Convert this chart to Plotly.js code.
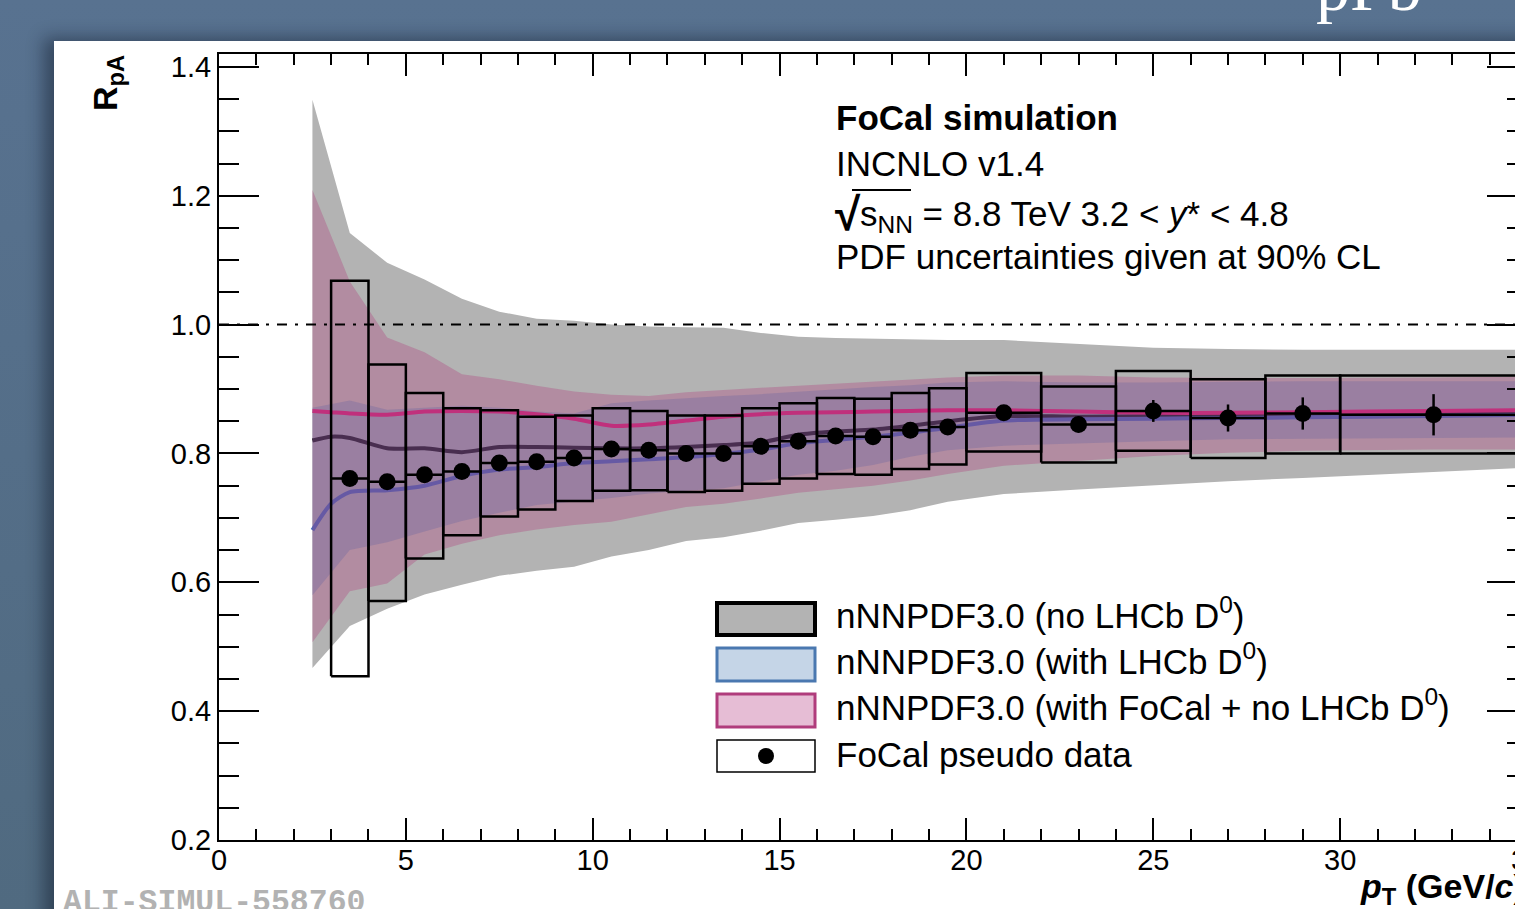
<!DOCTYPE html>
<html><head><meta charset="utf-8">
<script src="https://cdn.plot.ly/plotly-3.0.1.min.js"></script>
<style>
html,body{margin:0;padding:0;width:1515px;height:909px;overflow:hidden;}
body{background:linear-gradient(to bottom,#587290 0%,#506a80 100%);position:relative;}
#panel{position:absolute;left:54px;top:41px;width:1500px;height:900px;background:#fff;box-shadow:-10px -3px 16px rgba(10,20,35,0.45);}
#slidetitle{position:absolute;left:1316px;top:-47px;font-family:"Liberation Serif","DejaVu Serif",serif;font-size:68px;line-height:68px;color:#fff;white-space:nowrap;}
#alitag{position:absolute;left:63px;top:887px;font-family:"Liberation Mono","DejaVu Sans Mono",monospace;font-weight:bold;font-size:31.5px;line-height:31px;color:#b2b2b2;white-space:nowrap;}
#chart{position:absolute;left:0;top:0;width:1560px;height:909px;}
</style></head>
<body>
<div id="panel"></div>
<div id="slidetitle">pPb</div>
<div id="chart"></div>
<div id="alitag">ALI-SIMUL-558760</div>
<script>
// ---------- data ----------
const bandX  = [2.5,3.5,4.5,5.5,6.5,7.5,8.5,9.5,10.5,11.5,12.5,13.5,14.5,15.5,16.5,17.5,18.5,19.5,21,23,25,27,29,32.5,35];
const grayHi = [1.349,1.142,1.096,1.070,1.040,1.020,1.009,1.006,1.000,0.997,0.996,0.995,0.987,0.981,0.979,0.978,0.977,0.976,0.976,0.970,0.964,0.962,0.961,0.961,0.961];
const grayLo = [0.467,0.532,0.559,0.581,0.596,0.610,0.618,0.624,0.640,0.650,0.664,0.670,0.680,0.692,0.697,0.703,0.712,0.725,0.737,0.744,0.751,0.757,0.762,0.771,0.778];
const blueHi = [0.871,0.882,0.868,0.871,0.874,0.871,0.865,0.862,0.878,0.882,0.886,0.889,0.892,0.896,0.899,0.903,0.906,0.910,0.912,0.910,0.910,0.911,0.912,0.912,0.912];
const blueLo = [0.580,0.650,0.662,0.679,0.695,0.708,0.720,0.726,0.731,0.738,0.742,0.746,0.756,0.767,0.773,0.782,0.795,0.805,0.812,0.815,0.819,0.822,0.823,0.824,0.825];
const pinkHi = [1.209,1.067,0.980,0.957,0.923,0.915,0.905,0.896,0.891,0.889,0.895,0.899,0.902,0.905,0.908,0.911,0.914,0.918,0.921,0.921,0.918,0.917,0.917,0.918,0.919];
const pinkLo = [0.507,0.586,0.598,0.643,0.660,0.673,0.682,0.689,0.694,0.705,0.717,0.722,0.730,0.739,0.745,0.750,0.758,0.768,0.781,0.789,0.796,0.801,0.804,0.806,0.806];

const lineX     = [2.5,3.0,3.5,4.5,5.5,6.5,7.5,8.5,9.5,10.5,11.5,12.5,13.5,14.5,15.5,16.5,17.5,18.5,19.5,21,23,25,27,29,32.5,35];
const noLHCbMid = [0.820,0.826,0.824,0.808,0.808,0.802,0.810,0.810,0.809,0.808,0.808,0.810,0.813,0.817,0.829,0.834,0.837,0.843,0.850,0.858,0.857,0.858,0.858,0.860,0.861,0.862];
const lhcbMid   = [0.681,0.722,0.740,0.743,0.750,0.765,0.775,0.779,0.785,0.788,0.791,0.794,0.799,0.806,0.816,0.821,0.826,0.832,0.840,0.851,0.853,0.854,0.855,0.856,0.858,0.860];
const focalMid  = [0.866,0.864,0.862,0.860,0.865,0.866,0.865,0.861,0.854,0.843,0.845,0.851,0.857,0.861,0.863,0.864,0.865,0.866,0.867,0.867,0.865,0.863,0.863,0.864,0.866,0.867];

const ptX     = [3.5,4.5,5.5,6.5,7.5,8.5,9.5,10.5,11.5,12.5,13.5,14.5,15.5,16.5,17.5,18.5,19.5,21,23,25,27,29,32.5];
const binHalf = [0.5,0.5,0.5,0.5,0.5,0.5,0.5,0.5,0.5,0.5,0.5,0.5,0.5,0.5,0.5,0.5,0.5,1,1,1,1,1,2.5];
const ptY     = [0.761,0.756,0.767,0.772,0.785,0.787,0.793,0.807,0.805,0.800,0.800,0.811,0.819,0.827,0.826,0.836,0.841,0.863,0.845,0.866,0.855,0.862,0.860];
const statErr = [0.004,0.004,0.004,0.004,0.004,0.005,0.005,0.005,0.005,0.005,0.006,0.006,0.006,0.007,0.007,0.008,0.008,0.010,0.012,0.017,0.021,0.025,0.032];
const boxHi   = [1.068,0.938,0.894,0.870,0.867,0.857,0.859,0.870,0.866,0.859,0.859,0.870,0.878,0.886,0.885,0.894,0.901,0.925,0.904,0.928,0.915,0.921,0.921];
const boxLo   = [0.454,0.571,0.637,0.673,0.702,0.713,0.726,0.742,0.743,0.740,0.742,0.753,0.761,0.768,0.767,0.776,0.783,0.803,0.786,0.804,0.793,0.800,0.800];

const refY = 1.0;
const xTickVals = [0,5,10,15,20,25,30,35];
const legendLabels = ["nNNPDF3.0 (no LHCb D<sup>0</sup>)","nNNPDF3.0 (with LHCb D<sup>0</sup>)","nNNPDF3.0 (with FoCal + no LHCb D<sup>0</sup>)","FoCal pseudo data"];
const infoLines = ["<b>FoCal simulation</b>","INCNLO v1.4","s<sub>NN</sub> = 8.8 TeV 3.2 < <i>y</i>* < 4.8","PDF uncertainties given at 90% CL"];

// ---------- geometry helpers (pixel -> paper) ----------
const W=1560,H=909,L=219,R=1527,T=54,B=840;
const px=p=>(p-L)/(R-L), py=p=>(B-p)/(B-T);
const FONT='"Liberation Sans", Arial, Helvetica, sans-serif';

function band(hi,lo,color){
  return {x:bandX.concat(bandX.slice().reverse()), y:hi.concat(lo.slice().reverse()),
    type:'scatter',mode:'lines',fill:'toself',fillcolor:color,line:{width:0,color:'rgba(0,0,0,0)'},hoverinfo:'skip',showlegend:false};
}
function midLine(y,color){
  return {x:lineX,y:y,type:'scatter',mode:'lines',line:{color:color,width:4,shape:'spline',smoothing:0.7},hoverinfo:'skip',showlegend:false};
}
const bx=[],by=[];
for(let i=0;i<ptX.length;i++){
  const a=ptX[i]-binHalf[i], b=ptX[i]+binHalf[i];
  bx.push(a,b,b,a,a,null); by.push(boxLo[i],boxLo[i],boxHi[i],boxHi[i],boxLo[i],null);
}
const traces=[
  band(grayHi,grayLo,'#b3b3b3'),
  midLine(noLHCbMid,'#000000'),
  band(blueHi,blueLo,'rgba(70,120,180,0.33)'),
  midLine(lhcbMid,'#4268b8'),
  band(pinkHi,pinkLo,'rgba(176,60,124,0.33)'),
  midLine(focalMid,'#c0307c'),
  {x:[0,35],y:[refY,refY],type:'scatter',mode:'lines',line:{color:'#000',width:2,dash:'10px,8px,3px,8px'},hoverinfo:'skip',showlegend:false},
  {x:bx,y:by,type:'scatter',mode:'lines',line:{color:'#000',width:2.5},connectgaps:false,hoverinfo:'skip',showlegend:false},
  {x:ptX,y:ptY,type:'scatter',mode:'markers',marker:{size:17,color:'#000'},
   error_x:{type:'data',array:binHalf,width:0,thickness:2.5,color:'#000'},
   error_y:{type:'data',array:statErr,width:0,thickness:2.5,color:'#000'},hoverinfo:'skip',showlegend:false}
];

const shapes=[], ann=[];
// legend boxes
const legRows=[[603,635],[648,681],[694,727],[740,772]];
const legFill=['#b3b3b3','#c5d5e7','#e6bdd5','#ffffff'];
const legLine=[['#000',4],['#4a78b0',3],['#b03c7c',3],['#000',1.5]];
const legCenters=[613,659,705,754];
legRows.forEach((r,i)=>{
  shapes.push({type:'rect',xref:'paper',yref:'paper',x0:px(717),x1:px(815),y0:py(r[1]),y1:py(r[0]),fillcolor:legFill[i],line:{color:legLine[i][0],width:legLine[i][1]}});
  ann.push({xref:'paper',yref:'paper',x:px(834),y:py(legCenters[i]),xanchor:'left',yanchor:'middle',showarrow:false,text:legendLabels[i],font:{family:FONT,size:35,color:'#000'}});
});
shapes.push({type:'circle',xref:'paper',yref:'paper',x0:px(758),x1:px(774),y0:py(764),y1:py(748),fillcolor:'#000',line:{width:0}});
// info text
const infoCenters=[118,163,215.5,256];
infoLines.forEach((t,i)=>{
  ann.push({xref:'paper',yref:'paper',x:px(i==2?858:834),y:py(infoCenters[i]),xanchor:'left',yanchor:'middle',showarrow:false,text:t,font:{family:FONT,size:35,color:'#000'}});
});
ann.push({xref:'paper',yref:'paper',x:px(833),y:py(214),xanchor:'left',yanchor:'middle',showarrow:false,text:'<b>√</b>',font:{family:FONT,size:46,color:'#000'}});
shapes.push({type:'line',xref:'paper',yref:'paper',x0:px(852),x1:px(911),y0:py(190),y1:py(190),line:{color:'#000',width:2}});
// axis titles
ann.push({xref:'paper',yref:'paper',x:px(1527),y:py(888),xanchor:'right',yanchor:'middle',showarrow:false,text:'<b><i>p</i><sub>T</sub> (GeV/<i>c</i>)</b>',font:{family:FONT,size:34,color:'#000'}});
ann.push({xref:'paper',yref:'paper',x:px(107),y:py(53),xanchor:'center',yanchor:'top',textangle:-90,showarrow:false,text:'<b>R<sub>pA</sub></b>',font:{family:FONT,size:34,color:'#000'}});

const axBase={showline:true,linewidth:2,linecolor:'#000',mirror:'ticks',ticks:'inside',tickwidth:2,tickcolor:'#000',
  showgrid:false,zeroline:false,fixedrange:true,tickfont:{family:FONT,size:29,color:'#000'}};
const layout={
  width:W,height:H,margin:{l:L,r:W-R,t:T,b:H-B,pad:0},
  paper_bgcolor:'rgba(0,0,0,0)',plot_bgcolor:'rgba(0,0,0,0)',showlegend:false,
  xaxis:Object.assign({},axBase,{range:[0,35],tickmode:'array',tickvals:xTickVals,ticktext:xTickVals.map(String),ticklen:22,ticklabelstandoff:-7,
    minor:{dtick:1,tick0:0,ticklen:11,tickwidth:2,tickcolor:'#000',ticks:'inside',showgrid:false}}),
  yaxis:Object.assign({},axBase,{range:[0.2,1.42],tick0:0.2,dtick:0.2,tickformat:'.1f',ticklen:40,
    minor:{dtick:0.05,tick0:0.2,ticklen:20,tickwidth:2,tickcolor:'#000',ticks:'inside',showgrid:false}}),
  shapes:shapes,annotations:ann
};
Plotly.newPlot('chart',traces,layout,{displayModeBar:false,staticPlot:true});
</script>
</body></html>
